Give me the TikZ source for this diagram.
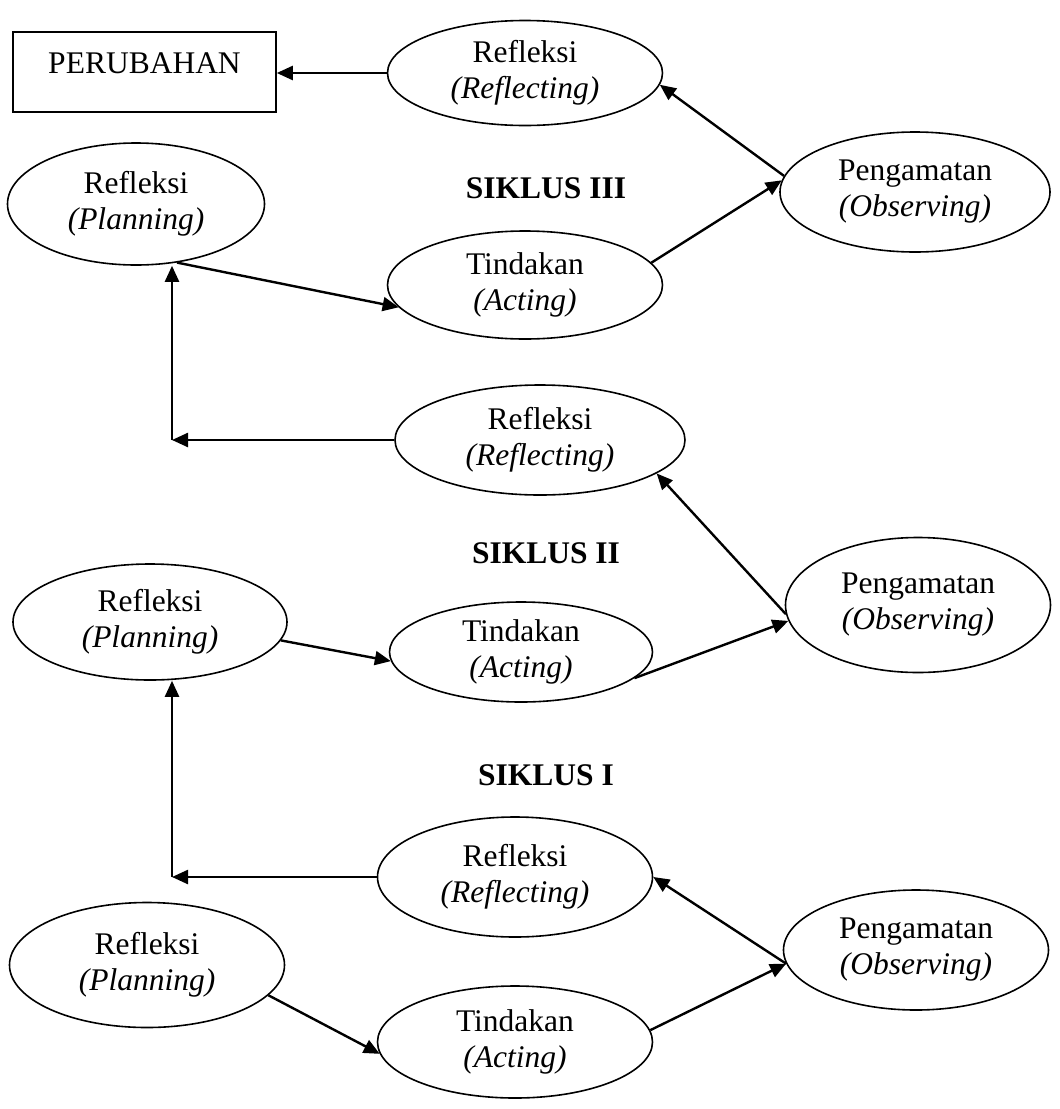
\documentclass[tikz,border=0pt]{standalone}
\usepackage{fontspec}
\setmainfont{Liberation Serif}
\usetikzlibrary{shapes.geometric,arrows.meta}

\begin{document}
\begin{tikzpicture}[
  x=0.5pt, y=-0.5pt,
  every node/.style={font=\fontsize{15.75}{18}\selectfont},
  my ellipse/.style={
    draw, ellipse, inner sep=0pt, line width=0.8pt, align=center,
  },
  my arrow/.style={
    line width=1.2pt, -{Triangle[length=8pt,width=7pt]},
  },
  siklus/.style={font=\fontsize{15.75}{18}\selectfont\bfseries},
  ]
  \useasboundingbox (0,0) rectangle (1060,1109);
  \node[draw, line width=0.8pt, inner sep=0pt, minimum width=131.5pt,
    text height=20.5pt, text depth=19.5pt] (change) at (144.5,72) {PERUBAHAN};
  \node[my ellipse, minimum width=137.5pt, minimum height=52.5pt] (reflTop) at (525,73) {Refleksi\\\textit{(Reflecting)}};
  \node[my ellipse, minimum width=135pt, minimum height=60pt] (obsTop) at (915,192) {Pengamatan\\\textit{(Observing)}};
  \node[my ellipse, minimum width=128.5pt, minimum height=61pt] (planTop) at (136,204) {Refleksi\\\textit{(Planning)}};
  \node[my ellipse, minimum width=137.5pt, minimum height=54pt] (actTop) at (525,285) {Tindakan\\\textit{(Acting)}};
  \node[siklus] (siklus3) at (546,188) {SIKLUS III};
  \node[my ellipse, minimum width=145pt, minimum height=55pt] (reflMid) at (540,440) {Refleksi\\\textit{(Reflecting)}};
  \node[siklus] (siklus2) at (546,553) {SIKLUS II};
  \node[my ellipse, minimum width=137pt, minimum height=58pt] (planMid) at (150,622) {Refleksi\\\textit{(Planning)}};
  \node[my ellipse, minimum width=131.5pt, minimum height=50pt] (actMid) at (521,652) {Tindakan\\\textit{(Acting)}};
  \node[my ellipse, minimum width=132.5pt, minimum height=67.5pt] (obsMid) at (918,605) {Pengamatan\\\textit{(Observing)}};
  \node[siklus] (siklus1) at (546,775) {SIKLUS I};
  \node[my ellipse, minimum width=137.5pt, minimum height=60pt] (reflBot) at (515,877) {Refleksi\\\textit{(Reflecting)}};
  \node[my ellipse, minimum width=132.5pt, minimum height=60pt] (obsBot) at (916,950) {Pengamatan\\\textit{(Observing)}};
  \node[my ellipse, minimum width=137.5pt, minimum height=62.5pt] (planBot) at (147,965) {Refleksi\\\textit{(Planning)}};
  \node[my ellipse, minimum width=137.5pt, minimum height=56pt] (actBot) at (515,1042) {Tindakan\\\textit{(Acting)}};
  \coordinate (cornerTop) at (172,440);
  \coordinate (cornerBot) at (172,877);
  \draw[my arrow] (reflTop.west) -- (reflTop.west -| change.east);
  \draw[my arrow] (obsTop.173) -- (reflTop.-5);
  \draw[my arrow] (actTop.10) -- (obsTop.175);
  \draw[my arrow] (planTop.-55) -- (actTop.190);
  \draw[my arrow] (reflMid.west) -- (cornerTop);
  \draw[my arrow] (cornerTop) -- (cornerTop |- planTop.south);
  \draw[my arrow] (obsMid.184) -- (reflMid.-16);
  \draw[my arrow] (actMid.-13) -- (obsMid.187);
  \draw[my arrow] (planMid.-8) -- (actMid.184);
  \draw[my arrow] (reflBot.west) -- (cornerBot);
  \draw[my arrow] (cornerBot) -- (cornerBot |- planMid.south);
  \draw[my arrow] (obsBot.186) -- (reflBot.0);
  \draw[my arrow] (actBot.5) -- (obsBot.186);
  \draw[my arrow] (planBot.-14) -- (actBot.185);
\end{tikzpicture}
\end{document}
